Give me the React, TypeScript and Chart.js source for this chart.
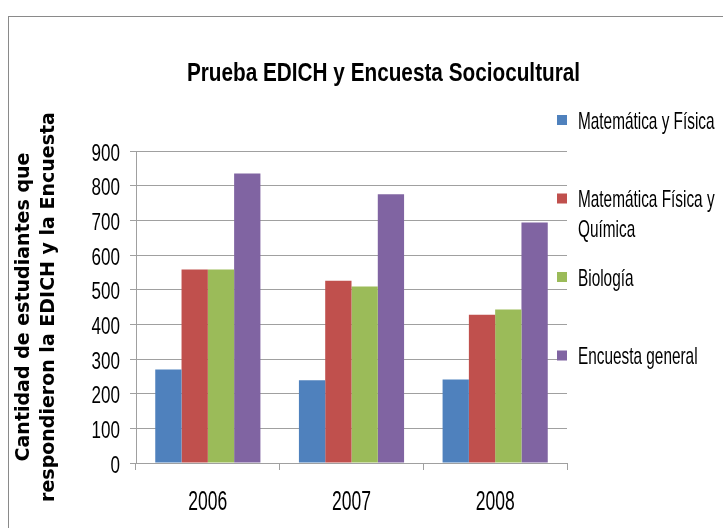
import React, { useEffect, useRef } from 'react';
import { Chart, registerables } from 'chart.js';

Chart.register(...registerables);

const categories = ['2006', '2007', '2008'];
const seriesNames = ['Matemática y Física', 'Matemática Física y Química', 'Biología', 'Encuesta general'];
const matematicaFisica = [270, 239, 241];
const matematicaFisicaQuimica = [558, 526, 428];
const biologia = [558, 509, 443];
const encuestaGeneral = [835, 775, 694];
const seriesColors = ['#4F81BD', '#C0504D', '#9BBB59', '#8064A2'];
const yTickValues = [0, 100, 200, 300, 400, 500, 600, 700, 800, 900];
const chartTitle = 'Prueba EDICH y Encuesta Sociocultural';
const yTitle = ['Cantidad de estudiantes que', 'respondieron la EDICH y la Encuesta'];

const GRID = '#a0a0a0';
const FONT = "'Liberation Sans', Arial, sans-serif";

function squeezedText(ctx: CanvasRenderingContext2D, text: string, x: number, y: number, sx: number, align: CanvasTextAlign) {
  ctx.save();
  ctx.translate(x, y);
  ctx.scale(sx, 1);
  ctx.textAlign = align;
  ctx.textBaseline = 'alphabetic';
  ctx.fillText(text, 0, 0);
  ctx.restore();
}

function wrapWords(ctx: CanvasRenderingContext2D, text: string, maxWidth: number, sx: number): string[] {
  const words = text.split(' ');
  const lines: string[] = [];
  let cur = '';
  for (const w of words) {
    const test = cur ? cur + ' ' + w : w;
    if (cur && ctx.measureText(test).width * sx > maxWidth) {
      lines.push(cur);
      cur = w;
    } else {
      cur = test;
    }
  }
  if (cur) lines.push(cur);
  return lines;
}

const textPlugin = {
  id: 'squeezedText',
  beforeDraw(chart: any) {
    const ctx = chart.ctx as CanvasRenderingContext2D;
    ctx.save();
    ctx.strokeStyle = '#8a8a8a';
    ctx.lineWidth = 1;
    ctx.strokeRect(8.5, 16.5, 760, 560);
    ctx.restore();
  },
  afterDraw(chart: any) {
    const ctx = chart.ctx as CanvasRenderingContext2D;
    const xs = chart.scales.x;
    const ys = chart.scales.y;
    const area = chart.chartArea;
    ctx.save();
    ctx.fillStyle = '#000000';

    // chart title
    ctx.font = `bold 25px ${FONT}`;
    squeezedText(ctx, chartTitle, 383.5, 81, 0.83, 'center');

    // y tick labels
    ctx.font = `23px ${FONT}`;
    yTickValues.forEach((v) => {
      squeezedText(ctx, String(v), ys.right - 16, ys.getPixelForValue(v) + 9.5, 0.74, 'right');
    });

    // x tick labels
    ctx.font = `28px ${FONT}`;
    categories.forEach((c, i) => {
      squeezedText(ctx, c, xs.getPixelForValue(i), xs.top + 47, 0.626, 'center');
    });

    // legend
    const legSx = 0.64;
    ctx.font = `24px ${FONT}`;
    const sqLeft = area.right - 10;
    const textX = area.right + 11;
    const firstY = area.top - 31;
    const step = 78.5;
    chart.data.datasets.forEach((ds: any, i: number) => {
      const cy = firstY + i * step;
      ctx.fillStyle = ds.backgroundColor;
      ctx.fillRect(sqLeft, cy - 5, 10, 10);
      ctx.fillStyle = '#000000';
      const lines = wrapWords(ctx, ds.label, 145, legSx);
      lines.forEach((ln, j) => {
        squeezedText(ctx, ln, textX, cy + 8.5 + j * 30, legSx, 'left');
      });
    });
    ctx.restore();
  },
};

export default function App() {
  const canvasRef = useRef<HTMLCanvasElement | null>(null);

  useEffect(() => {
    document.body.style.margin = '0';
    const canvas = canvasRef.current;
    if (!canvas) return;
    const seriesValues = [matematicaFisica, matematicaFisicaQuimica, biologia, encuestaGeneral];
    const chart = new Chart(canvas, {
      type: 'bar',
      data: {
        labels: categories,
        datasets: seriesNames.map((name, i) => ({
          label: name,
          data: seriesValues[i],
          backgroundColor: seriesColors[i],
          borderWidth: 0,
          categoryPercentage: 0.732,
          barPercentage: 1,
        })),
      },
      options: {
        responsive: false,
        animation: false,
        events: [],
        layout: { padding: { left: 10, right: 156, top: 151, bottom: 25 } },
        plugins: {
          legend: { display: false },
          title: { display: false },
          tooltip: { enabled: false },
        },
        scales: {
          x: {
            grid: {
              offset: true,
              drawOnChartArea: false,
              drawTicks: true,
              tickLength: 7,
              color: GRID,
            },
            border: { display: true, color: GRID },
            ticks: { display: false },
            afterFit: (scale: any) => {
              scale.height = 40;
            },
          },
          y: {
            min: 0,
            max: 900,
            grid: {
              color: GRID,
              drawTicks: true,
              tickLength: 6,
            },
            border: { display: true, color: GRID },
            ticks: { display: false, stepSize: 100 },
            title: {
              display: true,
              text: yTitle,
              color: '#000000',
              font: { family: "'DejaVu Sans', sans-serif", weight: 'bold', size: 19, lineHeight: 1.3 },
              padding: { top: 2, bottom: 0 },
            },
            afterFit: (scale: any) => {
              scale.width = 126;
            },
          },
        },
      },
      plugins: [textPlugin],
    } as any);
    return () => chart.destroy();
  }, []);

  return (
    <div style={{ width: 723, height: 528, background: '#ffffff' }}>
      <canvas ref={canvasRef} width={723} height={528} style={{ display: 'block', width: 723, height: 528 }} />
    </div>
  );
}
